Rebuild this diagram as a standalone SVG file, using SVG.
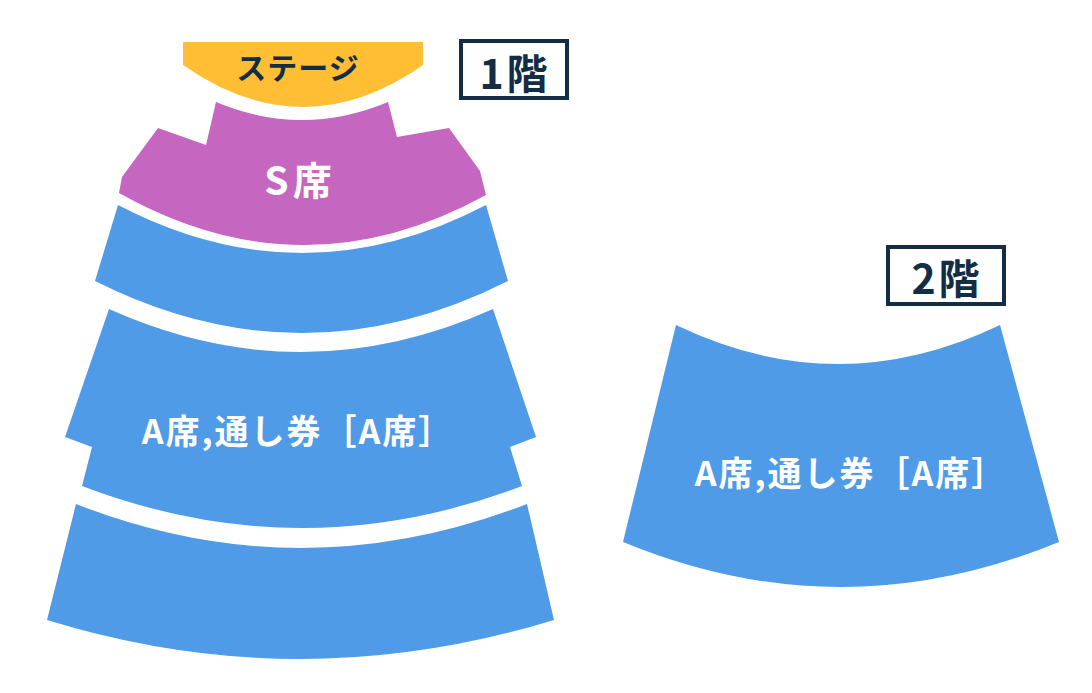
<svg xmlns="http://www.w3.org/2000/svg" width="1092" height="693" viewBox="0 0 1092 693">
<style>
.lbl{font-family:"Noto Sans CJK JP","Noto Sans",sans-serif;font-weight:700;text-anchor:middle}
.w{fill:#ffffff}
.n{fill:#132d45}
.blue{fill:#4f9be8}
.box{fill:#ffffff;stroke:#132d45;stroke-width:4}
.seat{font-size:34px;letter-spacing:2px}
</style>
<rect width="1092" height="693" fill="#ffffff"/>
<g id="stage">
<path d="M183,42 L423,42 L423,65 Q303,149 183,65 Z" fill="#ffbe34"/>
<text class="lbl n" x="298" y="79" font-size="30" letter-spacing="1">ステージ</text>
</g>
<g id="floor1-label">
<rect class="box" x="461" y="41" width="106" height="57"/>
<text class="lbl n" x="515" y="89" font-size="41" letter-spacing="3">1階</text>
</g>
<g id="s-seat">
<path d="M216,102 Q302,138 388,102 L397,137 L449,128 L480,171 L486,195 Q302,296 119,193 L122,177 L158,128 L206,145 Z" fill="#c566c0"/>
<text class="lbl w" x="300" y="195" font-size="39" letter-spacing="4">S席</text>
</g>
<g id="a-row1">
<path class="blue" d="M118,205 Q302,301 486,205 L508,281 Q302,385 95,281 Z"/>
</g>
<g id="a-row2">
<path class="blue" d="M109,309 Q301,395 493,309 L536,437 L510,447 L522,486 Q302,570 82,486 L92,447 L65,437 Z"/>
<text class="lbl w seat" x="298" y="444">A席,通し券［A席］</text>
</g>
<g id="a-row3">
<path class="blue" d="M76,504 Q301,592 527,504 L554,620 Q300,698 47,620 Z"/>
</g>
<g id="floor2-label">
<rect class="box" x="888" y="247" width="116" height="57"/>
<text class="lbl n" x="947" y="294" font-size="41" letter-spacing="3">2階</text>
</g>
<g id="floor2-a-seat">
<path class="blue" d="M676,325 Q838,403 1000,325 L1059,542 Q841,632 623,542 Z"/>
<text class="lbl w seat" x="851" y="486">A席,通し券［A席］</text>
</g>
</svg>
